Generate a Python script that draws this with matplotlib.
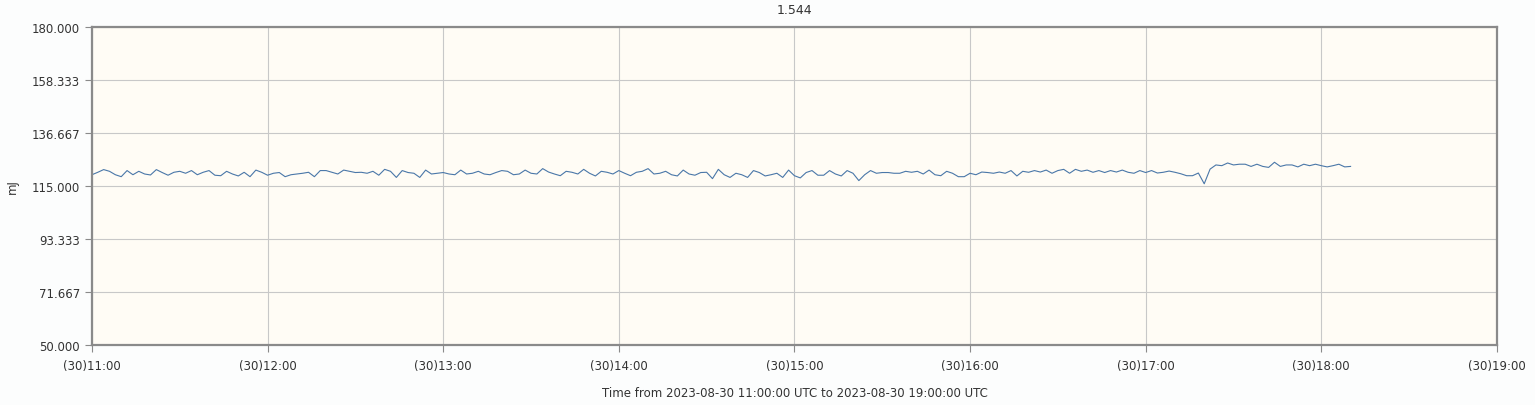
import numpy as np
import pandas as pd
import matplotlib
matplotlib.use("Agg")
import matplotlib.pyplot as plt
import matplotlib.dates as mdates

# data, one value every 2 minutes from 11:00
start = "2023-08-30 11:00"
step_min = 2
energy_mj = [
    119.6, 120.6, 121.7, 121.0, 119.6, 118.8, 121.3, 119.6, 121.0, 119.9,
    119.5, 121.7, 120.5, 119.4, 120.6, 121.0, 120.2, 121.3, 119.6, 120.6,
    121.3, 119.4, 119.2, 121.0, 119.9, 119.1, 120.6, 118.8, 121.5, 120.6,
    119.4, 120.2, 120.5, 118.8, 119.6, 119.9, 120.2,
    120.6, 118.8, 121.3, 121.3, 120.6, 119.9, 121.5, 121.0, 120.5, 120.6,
    120.2, 121.0, 119.4, 121.8, 121.0, 118.5, 121.3, 120.5, 120.2, 118.5,
    121.5, 119.9, 120.2, 120.5, 119.9, 119.6, 121.5, 119.9, 120.2, 121.0,
    119.9, 119.6, 120.5, 121.3, 121.0, 119.6,
    119.9, 121.5, 120.2, 119.9, 122.1, 120.7, 119.9, 119.2, 121.0, 120.6,
    119.9, 121.8, 120.2, 119.1, 121.0, 120.6, 119.9, 121.3, 120.2, 119.2,
    120.6, 121.0, 122.1, 119.9, 120.2, 121.0, 119.6, 119.1, 121.5, 119.9,
    119.4, 120.5, 120.6, 118.0, 121.8, 119.6,
    118.5, 120.2, 119.6, 118.5, 121.3, 120.5, 119.1, 119.6, 120.2, 118.5,
    121.5, 119.2, 118.3, 120.5, 121.3, 119.4, 119.4, 121.3, 119.9, 119.1,
    121.3, 120.2, 117.2, 119.6, 121.3, 120.2, 120.5, 120.5, 120.2, 120.2,
    121.0, 120.6, 121.0, 119.9, 121.5, 119.6,
    119.2, 121.0, 120.2, 118.8, 118.8, 120.2, 119.6, 120.7, 120.5, 120.2,
    120.7, 120.2, 121.3, 119.1, 121.0, 120.6, 121.3, 120.7, 121.5, 120.2,
    121.3, 121.8, 120.2, 121.8, 121.0, 121.5, 120.6, 121.3, 120.5, 121.3,
    120.7, 121.5, 120.6, 120.2, 121.3, 120.5,
    121.3, 120.3, 120.6, 121.1, 120.6, 120.0, 119.2, 119.2, 120.3, 115.9,
    121.9, 123.6, 123.3, 124.4, 123.6, 123.9, 123.9, 123.0, 123.9, 123.0,
    122.6, 124.7, 123.0, 123.6, 123.6, 122.8, 123.9, 123.3, 123.9, 123.3,
    122.8, 123.3, 123.9, 122.8, 123.0,
]
y_ticks = [50.0, 71.667, 93.333, 115.0, 136.667, 158.333, 180.0]
x_start = "2023-08-30 11:00"
x_end = "2023-08-30 19:00"

times = pd.date_range(start, periods=len(energy_mj), freq=f"{step_min}min")

fig = plt.figure(figsize=(15.35, 4.06), dpi=100, facecolor="#fcfdfd")
ax = fig.add_axes([0.0599, 0.1478, 0.9153, 0.7833])
ax.set_facecolor("#fffcf5")

ax.plot(times, energy_mj, color="#4a77a8", linewidth=0.8)

ax.set_ylim(50, 180)
ax.set_yticks(y_ticks)
ax.set_yticklabels([f"{v:.3f}" for v in y_ticks])
ax.set_xlim(pd.Timestamp(x_start), pd.Timestamp(x_end))
ax.xaxis.set_major_locator(mdates.HourLocator())
ax.xaxis.set_major_formatter(mdates.DateFormatter("(%d)%H:%M"))

ax.grid(True, color="#c8c8c8", linewidth=0.8)
ax.set_axisbelow(True)
for s in ax.spines.values():
    s.set_color("#8a8a8a")
    s.set_linewidth(1.6)

ax.tick_params(axis="both", labelsize=8.5, colors="#8a8a8a", labelcolor="#333333",
               length=5, width=0.8)
ax.tick_params(axis="x", pad=5)

ax.set_title("1.544", fontsize=9, color="#333333", pad=10)
ax.set_ylabel("mJ", fontsize=8.5, color="#333333")
ax.yaxis.set_label_coords(-0.052, 0.5)
ax.set_xlabel("Time from 2023-08-30 11:00:00 UTC to 2023-08-30 19:00:00 UTC",
              fontsize=8.5, color="#333333", labelpad=10)

fig.savefig("out.png", dpi=100, facecolor=fig.get_facecolor())
